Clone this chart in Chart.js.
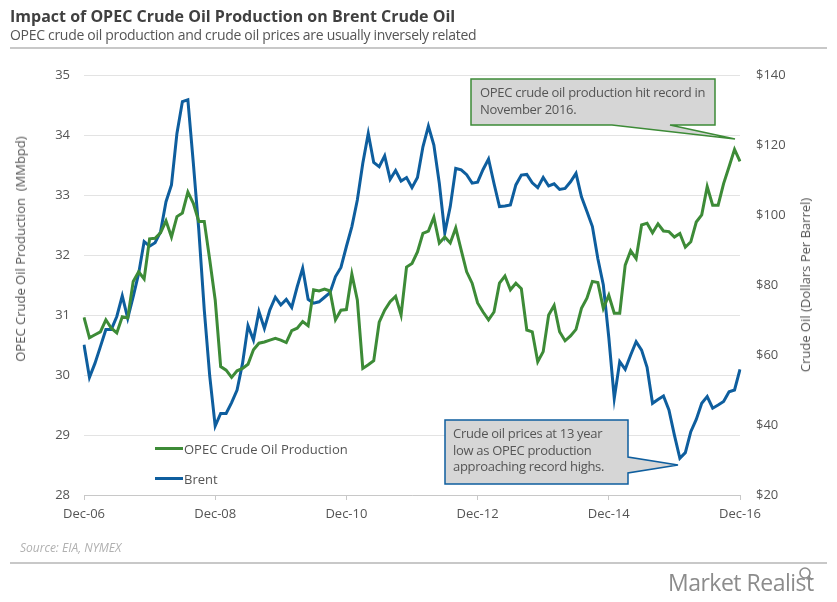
<!DOCTYPE html>
<html>
<head>
<meta charset="utf-8">
<script src="https://cdn.jsdelivr.net/npm/chart.js@4.4.0/dist/chart.umd.min.js"></script>
<style>
  body { margin: 0; background: #fff; font-family: "Open Sans", sans-serif; }
  #wrap { position: relative; width: 837px; height: 602px; overflow: hidden; }
  #chart-box { position: absolute; left: 0; top: 0; width: 837px; height: 602px; }
  .txt { position: absolute; white-space: nowrap; color: #555; }
  #title { left: 10px; top: 5px; font-size: 16px; font-weight: bold; color: #404040; }
  #subtitle { left: 10px; top: 25px; font-size: 14px; color: #555; letter-spacing: -0.3px; }
  .rule { position: absolute; left: 10px; width: 817px; height: 2px; background: #c8c8c8; }
  #source { left: 20px; top: 539px; font-size: 12px; font-style: italic; color: #b0b0b0; }
  #logo { left: 668px; top: 566px; font-size: 23px; color: #8c8c8c; letter-spacing: -0.5px; }
  .ytitle { font-size: 13px; transform: translate(-50%, -50%) rotate(-90deg); }
  .legend-line { position: absolute; width: 28px; height: 3px; }
  .legend-text { font-size: 13px; }
  .note { font-size: 13px; line-height: 16.5px; color: #555; letter-spacing: -0.3px; }
  svg { position: absolute; left: 0; top: 0; }
</style>
</head>
<body>
<div id="wrap">
  <div id="chart-box"><canvas id="oil-chart" width="837" height="602"></canvas></div>

  <div class="txt" id="title">Impact of OPEC Crude Oil Production on Brent Crude Oil</div>
  <div class="txt" id="subtitle">OPEC crude oil production and crude oil prices are usually inversely related</div>
  <div class="rule" style="top: 47px;"></div>
  <div class="txt ytitle" style="left: 20px; top: 249px;">OPEC Crude Oil Production&nbsp;&nbsp;(MMbpd)</div>
  <div class="txt ytitle" style="left: 805px; top: 285px;">Crude Oil (Dollars Per Barrel)</div>

  <div class="legend-line" style="left: 155px; top: 447px; background: #3d8b37;"></div>
  <div class="txt legend-text" style="left: 184px; top: 440px;">OPEC Crude Oil Production</div>
  <div class="legend-line" style="left: 155px; top: 477px; background: #0e5e9e;"></div>
  <div class="txt legend-text" style="left: 184px; top: 470px;">Brent</div>

  <svg width="837" height="602">
    <polygon points="471,79 715,79 715,125 670,125 735,139 612,125 471,125" fill="#d6d6d6" stroke="#3d8b37" stroke-width="1.5"/>
    <polygon points="445,420 628,420 628,457 678,465 628,473 628,484 445,484" fill="#d6d6d6" stroke="#0e5e9e" stroke-width="1.5"/>
    <g fill="none" stroke="#8c8c8c" stroke-width="1.6">
      <circle cx="805" cy="573" r="5"/>
      <line x1="808.5" y1="576.5" x2="812" y2="580"/>
    </g>
  </svg>
  <div class="txt note" style="left: 480px; top: 84px;">OPEC crude oil production hit record in<br>November 2016.</div>
  <div class="txt note" style="left: 453px; top: 425px;">Crude oil prices at 13 year<br>low as OPEC production<br>approaching record highs.</div>

  <div class="txt" id="source">Source: EIA, NYMEX</div>
  <div class="rule" style="top: 562px;"></div>
  <div class="txt" id="logo">Market Realist</div>
</div>

<script>
// monthly, Dec-06 .. Dec-16
const monthNames = ['Jan','Feb','Mar','Apr','May','Jun','Jul','Aug','Sep','Oct','Nov','Dec']
const labels = []
for (let i = 0; i <= 120; i++) {
    const m = (11 + i) % 12
    const y = 6 + Math.floor((11 + i) / 12)
    labels.push(monthNames[m] + '-' + String(y).padStart(2, '0'))
}

// OPEC crude oil production (MMbpd)
const opecProduction = [30.96, 30.62, 30.67, 30.72, 30.92, 30.78, 30.70, 30.97, 30.95, 31.56, 31.72, 31.60,
    32.27, 32.28, 32.37, 32.57, 32.30, 32.64, 32.70, 33.05, 32.86, 32.56, 32.56, 31.92,
    31.25, 30.14, 30.08, 29.96, 30.07, 30.11, 30.18, 30.42, 30.53, 30.55, 30.58, 30.61,
    30.58, 30.54, 30.74, 30.78, 30.89, 30.82, 31.42, 31.40, 31.43, 31.40, 30.92, 31.08,
    31.09, 31.68, 31.25, 30.11, 30.17, 30.24, 30.88, 31.08, 31.22, 31.31, 31.00, 31.80,
    31.86, 32.05, 32.36, 32.40, 32.63, 32.20, 32.30, 32.20, 32.45, 32.08, 31.72, 31.53,
    31.20, 31.05, 30.92, 31.05, 31.53, 31.65, 31.42, 31.53, 31.44, 30.75, 30.72, 30.22,
    30.39, 31.00, 31.16, 30.72, 30.57, 30.65, 30.76, 31.11, 31.28, 31.56, 31.54, 31.11,
    31.33, 31.03, 31.03, 31.83, 32.07, 31.94, 32.50, 32.53, 32.37, 32.52, 32.40, 32.39,
    32.30, 32.36, 32.13, 32.22, 32.55, 32.67, 33.14, 32.83, 32.83, 33.19, 33.47, 33.76,
    33.56]

// Brent crude oil ($ per barrel)
const brentPrice = [62.9, 53.6, 57.6, 62.4, 67.3, 67.3, 71.0, 76.9, 70.5, 76.7, 83.3, 92.4,
    91.1, 92.1, 95.2, 103.8, 108.6, 123.3, 132.4, 132.9, 114.8, 95.7, 72.9, 54.0,
    39.7, 43.3, 43.3, 46.4, 50.0, 57.6, 68.4, 64.3, 72.4, 67.6, 72.9, 76.5,
    74.3, 75.9, 73.6, 79.5, 84.8, 75.9, 74.8, 75.2, 76.5, 77.8, 82.4, 85.0,
    91.0, 96.7, 104.3, 114.8, 123.3, 115.0, 113.8, 116.9, 110.2, 112.7, 109.7, 110.7,
    107.8, 110.7, 119.5, 125.4, 120.0, 109.0, 94.9, 102.4, 113.3, 112.9, 111.5, 109.1,
    109.4, 113.0, 116.0, 109.0, 102.4, 102.6, 102.9, 108.6, 111.4, 111.6, 109.2, 107.8,
    110.7, 108.3, 108.9, 107.3, 107.6, 109.5, 111.9, 105.2, 101.0, 96.7, 87.5, 80.0,
    65.0, 47.6, 58.1, 55.9, 60.0, 63.8, 61.4, 56.5, 46.2, 47.3, 48.3, 44.3,
    37.1, 30.5, 32.1, 38.1, 41.6, 46.2, 48.1, 44.8, 45.7, 46.7, 49.5, 50.0,
    55.9]

const tickFont = { family: 'Open Sans', size: 13 }

const ctx = document.getElementById('oil-chart')
const myChart = new Chart(ctx, {
    type: 'line',
    data: {
        labels: labels,
        datasets: [{
            label: 'OPEC Crude Oil Production',
            data: opecProduction,
            yAxisID: 'y',
            borderColor: '#3d8b37',
            borderWidth: 3,
            pointRadius: 0,
            tension: 0
        }, {
            label: 'Brent',
            data: brentPrice,
            yAxisID: 'y1',
            borderColor: '#0e5e9e',
            borderWidth: 3,
            pointRadius: 0,
            tension: 0
        }]
    },
    options: {
        responsive: false,
        animation: false,
        layout: { padding: { top: 75, left: 0, right: 0, bottom: 0 } },
        plugins: { legend: { display: false }, tooltip: { enabled: false } },
        scales: {
            x: {
                offset: false,
                grid: { drawOnChartArea: false, color: '#c8c8c8', tickLength: 5 },
                border: { color: '#c8c8c8' },
                ticks: {
                    autoSkip: false, maxRotation: 0, padding: 6, color: '#555', font: tickFont,
                    callback: function (val, i) { return i % 24 === 0 ? labels[i] : null }
                },
                afterFit: function (axis) { axis.height = 107 }
            },
            y: {
                position: 'left',
                min: 28, max: 35,
                ticks: { stepSize: 1, padding: 14, color: '#555', font: tickFont },
                grid: { color: '#e3e3e3', drawTicks: false },
                border: { display: false },
                afterFit: function (axis) { axis.width = 84 }
            },
            y1: {
                position: 'right',
                min: 20, max: 140,
                ticks: { stepSize: 20, padding: 16, color: '#555', font: tickFont,
                         callback: function (v) { return '$' + v } },
                grid: { drawOnChartArea: false, drawTicks: false },
                border: { display: false },
                afterFit: function (axis) { axis.width = 97 }
            }
        }
    }
})
</script>
</body>
</html>
